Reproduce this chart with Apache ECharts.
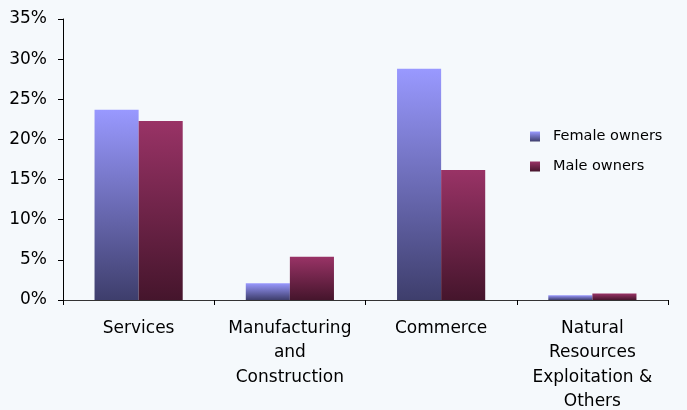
<!DOCTYPE html>
<html><head><meta charset="utf-8">
<script src="https://cdn.jsdelivr.net/npm/echarts@6/dist/echarts.min.js"></script>
<style>html,body{margin:0;padding:0;background:#F5F9FC;}#c{width:687px;height:410px;}</style>
</head><body><div id="c"></div>
<script>
var categories = ['Services', 'Manufacturing\nand\nConstruction', 'Commerce', 'Natural\nResources\nExploitation &\nOthers'];
var femaleOwners = [23.7, 2.1, 28.8, 0.6];
var maleOwners = [22.3, 5.4, 16.2, 0.8];
var seriesNames = ['Female owners', 'Male owners'];
var yTicks = [0, 5, 10, 15, 20, 25, 30, 35];

function grad(top, bottom) {
  return new echarts.graphic.LinearGradient(0, 0, 0, 1, [{offset: 0, color: top}, {offset: 1, color: bottom}]);
}
var chart = echarts.init(document.getElementById('c'));
var font = 'DejaVu Sans, Arial, sans-serif';
chart.setOption({
  backgroundColor: '#F5F9FC',
  animation: false,
  grid: {left: 63, right: 19, top: 19, bottom: 110, outerBoundsMode: 'none', containLabel: false},
  legend: {
    orient: 'vertical', left: 525, top: 124, itemWidth: 10, itemHeight: 10, itemGap: 15,
    icon: 'rect',
    textStyle: {fontFamily: font, fontSize: 14.5, color: '#000', padding: [0, 0, 0, 8]},
    data: seriesNames
  },
  xAxis: {
    type: 'category', data: categories,
    axisLine: {lineStyle: {color: '#333', width: 1}},
    axisTick: {show: true, length: 5, lineStyle: {color: '#000'}},
    axisLabel: {interval: 0, fontFamily: font, fontSize: 17, color: '#000', lineHeight: 24.5, margin: 16}
  },
  yAxis: {
    type: 'value', min: 0, max: 35, interval: 5,
    axisLine: {show: true, lineStyle: {color: '#000'}},
    axisTick: {show: true, length: 5, lineStyle: {color: '#000'}},
    splitLine: {show: false},
    axisLabel: {fontFamily: font, fontSize: 17, color: '#000', margin: 16, formatter: function (v) { return v + '%'; }}
  },
  series: [
    {name: seriesNames[0], type: 'bar', data: femaleOwners, barGap: '0%', barCategoryGap: '41.7%',
     itemStyle: {color: grad('#9999FF', '#3E3E6C')}},
    {name: seriesNames[1], type: 'bar', data: maleOwners,
     itemStyle: {color: grad('#993366', '#45152C')}}
  ]
});
</script></body></html>
